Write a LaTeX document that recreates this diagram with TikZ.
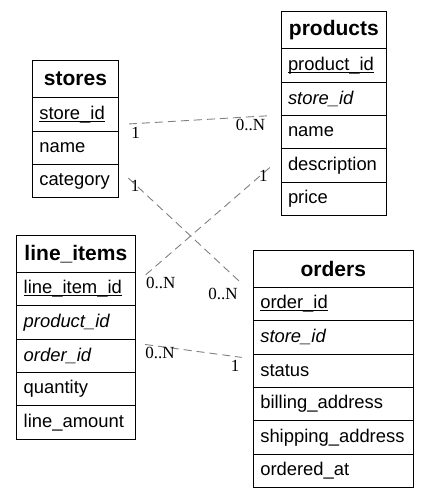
\documentclass[tikz,border=0pt]{standalone}
\usepackage{fontspec}
\usepackage{tikz}
\usetikzlibrary{positioning}
\newfontfamily\tblfont{Liberation Sans}
\newfontfamily\cardfont{Liberation Serif}
\newcommand\pkey[1]{\setbox0\hbox{#1}\rlap{\rule[-2.4pt]{\wd0}{0.9pt}}\box0}
\tikzset{
  tname/.style={draw, line width=0.9pt, outer sep=0pt, minimum height=37.5pt, text width=#1, align=center, inner xsep=0pt, font=\tblfont\bfseries\fontsize{21}{21}\selectfont},
  tfield/.style={draw, line width=0.9pt, outer sep=0pt, minimum height=33.3pt, text width=#1-14pt, align=left, inner xsep=7pt, font=\tblfont\fontsize{18.4}{18.4}\selectfont},
  rel/.style={draw=gray, dash pattern=on 8pt off 5pt, line width=0.9pt},
  card/.style={font=\cardfont\fontsize{17}{17}\selectfont, inner sep=2pt, text=black}
}
\begin{document}
\begin{tikzpicture}[x=1pt,y=-1pt]
  \useasboundingbox (0,0) rectangle (429,498);
  \def\ws{86.3pt}
  \node[tname=\ws, anchor=north west] (stores) at (32.3,60.3) {stores};
  \node[tfield=\ws, below=0pt of stores] (stores-store_id) {\pkey{store\_id}};
  \node[tfield=\ws, below=0pt of stores-store_id] (stores-name) {name};
  \node[tfield=\ws, below=0pt of stores-name] (stores-category) {category};
  \def\wp{105.7pt}
  \node[tname=\wp, anchor=north west] (products) at (281,11.3) {products};
  \node[tfield=\wp, below=0pt of products] (products-product_id) {\pkey{product\_id}};
  \node[tfield=\wp, below=0pt of products-product_id] (products-store_id) {\itshape store\_id};
  \node[tfield=\wp, below=0pt of products-store_id] (products-name) {name};
  \node[tfield=\wp, below=0pt of products-name] (products-description) {description};
  \node[tfield=\wp, below=0pt of products-description] (products-price) {price};
  \def\wl{118.3pt}
  \node[tname=\wl, anchor=north west] (items) at (16.7,235) {line\_items};
  \node[tfield=\wl, below=0pt of items] (items-id) {\pkey{line\_item\_id}};
  \node[tfield=\wl, below=0pt of items-id] (items-product) {\itshape product\_id};
  \node[tfield=\wl, below=0pt of items-product] (items-order) {\itshape order\_id};
  \node[tfield=\wl, below=0pt of items-order] (items-qty) {quantity};
  \node[tfield=\wl, below=0pt of items-qty] (items-amount) {line\_amount};
  \def\wo{160pt}
  \node[tname=\wo, anchor=north west] (orders) at (253.3,250) {orders};
  \node[tfield=\wo, below=0pt of orders] (orders-id) {\pkey{order\_id}};
  \node[tfield=\wo, below=0pt of orders-id] (orders-store) {\itshape store\_id};
  \node[tfield=\wo, below=0pt of orders-store] (orders-status) {status};
  \node[tfield=\wo, below=0pt of orders-status] (orders-billing) {billing\_address};
  \node[tfield=\wo, below=0pt of orders-billing] (orders-shipping) {shipping\_address};
  \node[tfield=\wo, below=0pt of orders-shipping] (orders-at) {ordered\_at};
  \draw[rel] ([xshift=10.4pt,yshift=-9.5pt]stores-store_id.east) -- ([xshift=-13.3pt,yshift=-0.4pt]products-store_id.south west)
    node[card, pos=0, anchor=north west, yshift=-1pt] (c1a) {1} node[card, pos=1, anchor=north east, yshift=-0.5pt] (c1b) {0..N};
  \draw[rel] ([xshift=9.7pt,yshift=3pt]stores-category.east) -- ([xshift=-13.3pt,yshift=5.6pt]orders.south west)
    node[card, pos=0, anchor=north west] (c2a) {1} node[card, pos=1, anchor=north east, yshift=-4pt] (c2b) {0..N};
  \draw[rel] ([xshift=10.7pt,yshift=-2.3pt]items-id.north east) -- ([xshift=-11pt,yshift=-2pt]products-description.west)
    node[card, pos=0, anchor=north west, xshift=-2pt] (c3a) {0..N} node[card, pos=1, anchor=north east] (c3b) {1};
  \draw[rel] ([xshift=10pt,yshift=11.3pt]items-order.east) -- ([xshift=-11.6pt,yshift=-3.3pt]orders-status.north west)
    node[card, pos=0, anchor=north west, xshift=-2pt] (c4a) {0..N} node[card, pos=1, anchor=north east] (c4b) {1};
\end{tikzpicture}
\end{document}
